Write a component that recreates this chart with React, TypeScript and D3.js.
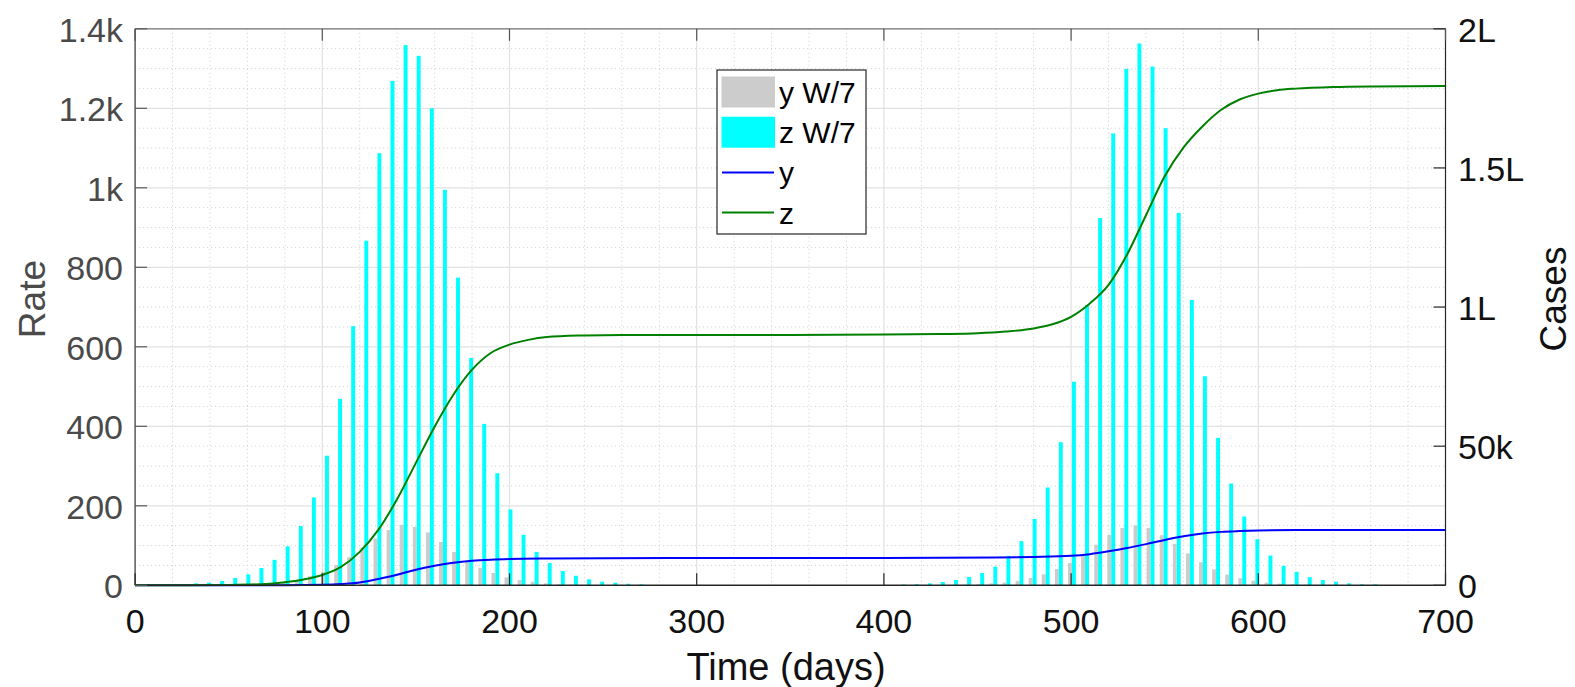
import React from 'react';
import * as d3 from 'd3';

// ---------- data ----------
// weekly bins: week k covers days [7k, 7k+7)
const weekStartDays = d3.range(0, 700, 7);

// "y W/7" weekly average (grey bars), one value per week
const yWeekly = [
  0, 0, 0, 0, 0, 0, 0, 0, 1, 2,
  4, 7, 13, 23, 34, 51, 71, 95, 118, 139,
  152, 147, 133, 109, 84, 60, 43.5, 31, 20, 13,
  9, 5, 2.5, 1.7, 1, 0, 0, 0, 0, 0,
  0, 0, 0, 0, 0, 0, 0, 0, 0, 0,
  0, 0, 0, 0, 0, 0, 0, 0, 0, 0,
  0, 0, 1, 1.7, 2.5, 5, 7, 11, 18.4, 27.7,
  41, 56, 75, 102, 127, 144, 151, 144, 126, 104,
  80, 58, 40, 27, 17.6, 11.3, 6.7, 4.2, 2.5, 1.7,
  1, 0, 0, 0, 0, 0, 0, 0, 0, 0,
];

// "z W/7" weekly average (cyan bars)
const zWeekly = [
  0, 0, 0, 3, 5, 6.6, 10.8, 18.4, 27.7, 43.5,
  64, 98, 149, 221, 326, 469, 652, 867, 1087, 1269,
  1359, 1332, 1200, 995, 774, 572, 406, 282, 191, 127,
  84, 56, 36, 24, 15, 9, 6.5, 4, 2.5, 0,
  0, 0, 0, 0, 0, 0, 0, 0, 0, 0,
  0, 0, 0, 0, 0, 0, 0, 0, 2, 3,
  5, 8.3, 13.3, 21, 31, 47, 74, 111, 167, 246,
  360, 512, 705, 924, 1137, 1299, 1363, 1305, 1150, 937,
  718, 526, 371, 256, 173, 116, 75, 49, 34, 20.5,
  13.3, 9, 5, 2.5, 2.5, 0, 0, 0, 0, 0,
];

// cumulative curves (right axis), sampled days and values
const zDays = [0, 30, 50, 60, 70, 80, 90, 100, 110, 120, 130, 140, 150, 160, 170, 180, 190, 200, 210, 220, 240, 260, 300, 350, 400, 430, 450, 465, 480, 490, 500, 510, 520, 530, 540, 550, 560, 570, 580, 590, 600, 610, 620, 640, 660, 700];
const zCum = [0, 20, 100, 250, 500, 1100, 2100, 3700, 6600, 12000, 20000, 31000, 44000, 57000, 68500, 77500, 83500, 86500, 88200, 89200, 89800, 90000, 90000, 90000, 90100, 90300, 90600, 91200, 92300, 93800, 96500, 101300, 108000, 119000, 133000, 147000, 157300, 164800, 170800, 174600, 176700, 177900, 178500, 179100, 179300, 179400];

const yDays = [0, 80, 100, 110, 120, 130, 140, 150, 160, 170, 180, 190, 200, 220, 250, 300, 400, 460, 480, 500, 510, 520, 530, 540, 550, 560, 570, 580, 590, 600, 620, 700];
const yCum = [0, 50, 200, 450, 1000, 2300, 3800, 5600, 7000, 8100, 8800, 9200, 9450, 9650, 9750, 9800, 9850, 10000, 10200, 10600, 11200, 12200, 13400, 14800, 16300, 17600, 18600, 19200, 19500, 19700, 19850, 19900];

const xTicks = [0, 100, 200, 300, 400, 500, 600, 700];
const leftTicks = [0, 200, 400, 600, 800, 1000, 1200, 1400];
const leftTickLabels = ['0', '200', '400', '600', '800', '1k', '1.2k', '1.4k'];
const rightTicks = [0, 50000, 100000, 150000, 200000];
const rightTickLabels = ['0', '50k', '1L', '1.5L', '2L'];

const legendItems = [
  { label: 'y W/7', kind: 'patch', color: '#cccccc' },
  { label: 'z W/7', kind: 'patch', color: '#00ffff' },
  { label: 'y', kind: 'line', color: '#0000ff' },
  { label: 'z', kind: 'line', color: '#008000' },
];

// ---------- layout ----------
const W = 1575;
const H = 687;
const L = 135.1, R = 1445.5, T = 28.8, B = 585.3;
const FONT = '"Liberation Sans", Arial, sans-serif';

export default function App() {
  const x = d3.scaleLinear().domain([0, 700]).range([L, R]);
  const yl = d3.scaleLinear().domain([0, 1400]).range([B, T]);
  const yr = d3.scaleLinear().domain([0, 200000]).range([B, T]);

  const barW = x(2.1) - x(0);
  const minorX = d3.range(0, 701, 20).filter((d) => d % 100 !== 0);
  const minorY = d3.range(0, 1401, 50).filter((d) => d % 200 !== 0);

  const lineGen = (days: number[], vals: number[]) =>
    d3
      .line<number>()
      .x((_, i) => x(days[i]))
      .y((v) => yr(v))
      .curve(d3.curveMonotoneX)(vals) || '';

  const tickLen = 12;
  const legX = 717, legY = 70, legW = 149, legH = 164;

  return (
    <div style={{ position: 'fixed', left: 0, top: 0, width: W, height: H, background: '#fff' }}>
      <svg width={W} height={H} style={{ display: 'block', fontFamily: FONT }}>
        <rect x={0} y={0} width={W} height={H} fill="#fff" />
        {/* minor grid */}
        <g stroke="#cfcfcf" strokeWidth={1} strokeDasharray="1,3">
          {minorX.map((d) => (
            <line key={'mx' + d} x1={x(d)} x2={x(d)} y1={T} y2={B} />
          ))}
          {minorY.map((d) => (
            <line key={'my' + d} x1={L} x2={R} y1={yl(d)} y2={yl(d)} />
          ))}
        </g>
        {/* major grid */}
        <g stroke="#e2e2e2" strokeWidth={1.2}>
          {xTicks.slice(1, -1).map((d) => (
            <line key={'gx' + d} x1={x(d)} x2={x(d)} y1={T} y2={B} />
          ))}
          {leftTicks.slice(1, -1).map((d) => (
            <line key={'gy' + d} x1={L} x2={R} y1={yl(d)} y2={yl(d)} />
          ))}
        </g>

        {/* bars */}
        <g>
          {weekStartDays.map((d, i) =>
            yWeekly[i] > 0 ? (
              <rect
                key={'yb' + i}
                x={x(d + 2.4) - barW / 2}
                y={yl(yWeekly[i])}
                width={barW}
                height={B - yl(yWeekly[i])}
                fill="#cccccc"
              />
            ) : null
          )}
          {weekStartDays.map((d, i) =>
            zWeekly[i] > 0 ? (
              <rect
                key={'zb' + i}
                x={x(d + 4.5) - barW / 2}
                y={yl(zWeekly[i])}
                width={barW}
                height={B - yl(zWeekly[i])}
                fill="#00ffff"
              />
            ) : null
          )}
        </g>

        {/* cumulative lines */}
        <path d={lineGen(yDays, yCum)} fill="none" stroke="#0000ff" strokeWidth={2} />
        <path d={lineGen(zDays, zCum)} fill="none" stroke="#008000" strokeWidth={2} />

        {/* axes box */}
        <line x1={L} x2={R} y1={T} y2={T} stroke="#707070" strokeWidth={1.2} />
        <line x1={L} x2={R} y1={B} y2={B} stroke="#262626" strokeWidth={1.5} />
        <line x1={L} x2={L} y1={T} y2={B} stroke="#595959" strokeWidth={1.5} />
        <line x1={R} x2={R} y1={T} y2={B} stroke="#262626" strokeWidth={1.2} />

        {/* x ticks */}
        <g stroke="#262626" strokeWidth={1.2}>
          {xTicks.map((d) => (
            <g key={'xt' + d}>
              <line x1={x(d)} x2={x(d)} y1={B} y2={B - tickLen} />
              <line x1={x(d)} x2={x(d)} y1={T} y2={T + tickLen} stroke="#555" />
            </g>
          ))}
        </g>
        <g fill="#111" fontSize={34} textAnchor="middle">
          {xTicks.map((d) => (
            <text key={'xl' + d} x={x(d)} y={633}>
              {d}
            </text>
          ))}
        </g>

        {/* left ticks */}
        <g stroke="#595959" strokeWidth={1.2}>
          {leftTicks.map((d) => (
            <line key={'lt' + d} x1={L} x2={L + tickLen} y1={yl(d)} y2={yl(d)} />
          ))}
        </g>
        <g fill="#4a4a4a" fontSize={34} textAnchor="end">
          {leftTicks.map((d, i) => (
            <text key={'ll' + d} x={123} y={yl(d) + 13}>
              {leftTickLabels[i]}
            </text>
          ))}
        </g>

        {/* right ticks */}
        <g stroke="#262626" strokeWidth={1.2}>
          {rightTicks.map((d) => (
            <line key={'rt' + d} x1={R} x2={R - tickLen} y1={yr(d)} y2={yr(d)} />
          ))}
        </g>
        <g fill="#111" fontSize={34} textAnchor="start">
          {rightTicks.map((d, i) => (
            <text key={'rl' + d} x={1458} y={yr(d) + 13}>
              {rightTickLabels[i]}
            </text>
          ))}
        </g>

        {/* axis titles */}
        <text x={786} y={680} fontSize={38} textAnchor="middle" fill="#111">
          Time (days)
        </text>
        <text
          transform={`translate(45,${(T + B) / 2 - 8}) rotate(-90)`}
          fontSize={37}
          textAnchor="middle"
          fill="#4a4a4a"
        >
          Rate
        </text>
        <text
          transform={`translate(1566,${(T + B) / 2 - 8}) rotate(-90)`}
          fontSize={37}
          textAnchor="middle"
          fill="#111"
        >
          Cases
        </text>

        {/* legend */}
        <rect x={legX} y={legY} width={legW} height={legH} fill="#fff" stroke="#262626" strokeWidth={1.2} />
        {legendItems.map((it, i) => {
          const cy = 92 + i * 40.2;
          return (
            <g key={'lg' + i}>
              {it.kind === 'patch' ? (
                <rect x={721.5} y={cy - 15.5} width={53.5} height={31} fill={it.color} />
              ) : (
                <line x1={722} x2={774} y1={cy} y2={cy} stroke={it.color} strokeWidth={2} />
              )}
              <text x={779} y={cy + 11} fontSize={30} fill="#000">
                {it.label}
              </text>
            </g>
          );
        })}
      </svg>
    </div>
  );
}
